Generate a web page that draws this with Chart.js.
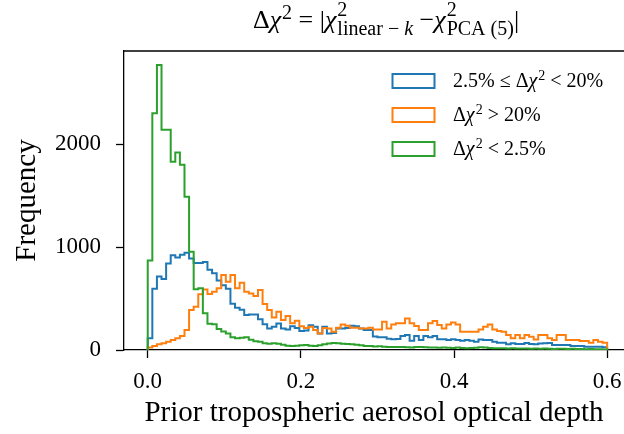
<!DOCTYPE html>
<html>
<head>
<meta charset="utf-8">
<script src="https://cdn.jsdelivr.net/npm/chart.js@4.4.0/dist/chart.umd.min.js"></script>
<style>
    html, body { margin: 0; padding: 0; background: #fff; }
    #wrap { width: 624px; height: 434px; }
</style>
</head>
<body>
<div id="wrap"><canvas id="histChart"></canvas></div>
<script>
// 100 equal bins from 0 to 0.6
var binStart = 0.0;
var binWidth = 0.006;

// 2.5% <= dchi2 < 20%
var countsMid = [
    113, 595, 715, 690, 840, 920, 900, 925, 945, 890,
    845, 845, 855, 780, 745, 675, 630, 595, 450, 410,
    390, 340, 345, 345, 300, 250, 210, 225, 258, 210,
    200, 230, 215, 185, 190, 240, 225, 160, 225, 160,
    165, 210, 210, 215, 235, 230, 210, 195, 195, 130,
    125, 123, 110, 104, 107, 136, 146, 91, 136, 97,
    136, 123, 136, 104, 104, 97, 104, 97, 90, 97,
    90, 81, 103, 97, 97, 81, 71, 71, 55, 65,
    59, 59, 68, 59, 55, 62, 65, 68, 49, 49,
    49, 49, 39, 39, 39, 32, 32, 32, 32, 26
];
// dchi2 > 20%
var countsHigh = [
    25, 40, 55, 65, 80, 97, 113, 136, 194, 388,
    421, 541, 589, 544, 566, 599, 728, 663, 728, 599,
    654, 566, 550, 524, 583, 447, 388, 317, 372, 291,
    330, 259, 285, 230, 215, 225, 195, 160, 215, 210,
    178, 217, 249, 235, 217, 217, 210, 210, 217, 200,
    200, 275, 210, 249, 259, 259, 307, 259, 233, 194,
    194, 259, 282, 243, 210, 249, 268, 249, 178, 178,
    178, 178, 200, 227, 249, 200, 184, 178, 146, 113,
    146, 113, 146, 129, 103, 146, 146, 113, 97, 146,
    146, 97, 97, 97, 87, 87, 71, 97, 81, 71
];
// dchi2 < 2.5%
var countsLow = [
    870, 2300, 2770, 2140, 2140, 1830, 1920, 1800, 1490, 955,
    590, 600, 356, 255, 250, 205, 180, 160, 125, 115,
    120, 125, 100, 85, 80, 65, 60, 65, 60, 50,
    42, 40, 42, 45, 48, 42, 40, 45, 55, 62,
    68, 65, 60, 58, 55, 50, 45, 40, 38, 35,
    36, 32, 30, 30, 28, 30, 26, 25, 28, 30,
    26, 24, 25, 22, 25, 22, 20, 24, 20, 18,
    20, 22, 26, 24, 20, 18, 16, 18, 15, 16,
    14, 15, 14, 12, 14, 12, 15, 12, 10, 12,
    11, 10, 12, 9, 10, 8, 9, 8, 7, 6
];

var seriesNames = ['2.5% ≤ Δχ² < 20%', 'Δχ² > 20%', 'Δχ² < 2.5%'];
var seriesColors = ['#1f77b4', '#ff7f0e', '#2ca02c'];
var xTicks = [0, 0.2, 0.4, 0.6];
var yTicks = [0, 1000, 2000];

var FONT = '"Liberation Serif", "DejaVu Serif", serif';

// pieces for the math-ish labels (sup / sub drawn smaller)
var legendParts = [
    [{t: '2.5% ≤ Δ'}, {t: 'χ', it: true}, {sup: '2'}, {t: ' < 20%'}],
    [{t: 'Δ'}, {t: 'χ', it: true}, {sup: '2'}, {t: ' > 20%'}],
    [{t: 'Δ'}, {t: 'χ', it: true}, {sup: '2'}, {t: ' < 2.5%'}]
];
var titleParts = [
    {t: 'Δ'}, {t: 'χ', it: true}, {sup: '2'}, {t: ' = |'},
    {t: 'χ', it: true}, {sup: '2', sub: [{t: 'linear − '}, {t: 'k', it: true}]}, {t: ' −'},
    {t: 'χ', it: true}, {sup: '2', sub: [{t: 'PCA (5)'}]}, {t: '|'}
];

function stepPoints(counts) {
    var pts = [{x: binStart, y: 0}];
    for (var i = 0; i < counts.length; i++) {
        pts.push({x: binStart + i * binWidth, y: counts[i]});
    }
    var end = binStart + counts.length * binWidth;
    pts.push({x: end, y: counts[counts.length - 1]});
    pts.push({x: end, y: 0});
    return pts;
}

function fontOf(p, size) {
    return (p.it ? 'italic ' : '') + size + 'px ' + FONT;
}

function runWidth(ctx, run, size) {
    var w = 0;
    run.forEach(function (p) {
        ctx.font = fontOf(p, size);
        w += ctx.measureText(p.t).width;
    });
    return w;
}

function scriptWidth(ctx, p, small) {
    ctx.font = small + 'px ' + FONT;
    var a = p.sup ? ctx.measureText(p.sup).width : 0;
    var b = p.sub ? runWidth(ctx, p.sub, small) : 0;
    return Math.max(a, b) + 1;
}

function richWidth(ctx, parts, size, scriptScale) {
    var w = 0;
    var small = Math.round(size * scriptScale);
    parts.forEach(function (p) {
        if (p.t !== undefined) {
            ctx.font = fontOf(p, size);
            w += ctx.measureText(p.t).width;
        } else {
            w += scriptWidth(ctx, p, small);
        }
    });
    return w;
}

function drawRich(ctx, parts, x, y, size, align, scriptScale) {
    var cx = align === 'center' ? x - richWidth(ctx, parts, size, scriptScale) / 2 : x;
    var small = Math.round(size * scriptScale);
    ctx.textBaseline = 'alphabetic';
    ctx.textAlign = 'left';
    ctx.fillStyle = '#000';
    parts.forEach(function (p) {
        if (p.t !== undefined) {
            ctx.font = fontOf(p, size);
            ctx.fillText(p.t, cx, y);
            cx += ctx.measureText(p.t).width;
        } else {
            var w = scriptWidth(ctx, p, small);
            if (p.sup) {
                var up = p.sub ? 0.46 : 0.36;
                ctx.font = small + 'px ' + FONT;
                ctx.fillText(p.sup, cx + 1, y - size * up);
            }
            if (p.sub) {
                var sx = cx + 1;
                p.sub.forEach(function (q) {
                    ctx.font = fontOf(q, small);
                    ctx.fillText(q.t, sx, y + size * 0.26);
                    sx += ctx.measureText(q.t).width;
                });
            }
            cx += w;
        }
    });
}

var decorPlugin = {
    id: 'decor',
    afterDraw: function (chart) {
        var ctx = chart.ctx;
        var area = chart.chartArea;
        ctx.save();
        // top spine
        ctx.strokeStyle = '#000';
        ctx.lineWidth = 1.3;
        ctx.beginPath();
        ctx.moveTo(area.left, area.top);
        ctx.lineTo(area.right, area.top);
        ctx.stroke();

        // title
        drawRich(ctx, titleParts, 386, 28, 26, 'center', 0.78);

        // legend
        for (var i = 0; i < legendParts.length; i++) {
            var rowY = 74 + i * 34;
            ctx.strokeStyle = seriesColors[i];
            ctx.lineWidth = 2;
            ctx.strokeRect(392.5, rowY, 42, 14);
            drawRich(ctx, legendParts[i], 453, rowY + 13, 20, 'left', 0.72);
        }
        ctx.restore();
    }
};

var countsList = [countsMid, countsHigh, countsLow];
var datasets = countsList.map(function (c, i) {
    return {
        label: seriesNames[i],
        data: stepPoints(c),
        borderColor: seriesColors[i],
        backgroundColor: 'rgba(0,0,0,0)',
        borderWidth: 2,
        fill: false,
        stepped: true,
        pointRadius: 0,
        order: 3 - i
    };
});

var ctx = document.getElementById('histChart').getContext('2d');
var histChart = new Chart(ctx, {
    type: 'line',
    data: { datasets: datasets },
    options: {
        responsive: true,
        maintainAspectRatio: false,
        animation: false,
        devicePixelRatio: 1,
        layout: { padding: { top: 51, right: 0, left: 0, bottom: 0 } },
        plugins: {
            legend: { display: false },
            tooltip: { enabled: false }
        },
        scales: {
            x: {
                type: 'linear',
                min: -0.031,
                max: 0.622,
                afterBuildTicks: function (scale) {
                    scale.ticks = xTicks.map(function (v) { return {value: v}; });
                },
                afterFit: function (scale) {
                    scale.height = 84;
                    scale.paddingLeft = 0;
                    scale.paddingRight = 0;
                },
                ticks: {
                    autoSkip: false,
                    maxRotation: 0,
                    padding: 10,
                    color: '#000',
                    font: { family: FONT, size: 23 },
                    callback: function (v) { return v.toFixed(1); }
                },
                grid: {
                    drawOnChartArea: false,
                    drawTicks: true,
                    tickLength: 8,
                    tickWidth: 1.3,
                    tickColor: '#000'
                },
                border: { display: true, color: '#000', width: 1.3 },
                title: {
                    display: true,
                    text: 'Prior tropospheric aerosol optical depth',
                    color: '#000',
                    font: { family: FONT, size: 29 },
                    padding: { top: 0, bottom: 3 }
                }
            },
            y: {
                min: 0,
                max: 2906,
                afterBuildTicks: function (scale) {
                    scale.ticks = yTicks.map(function (v) { return {value: v}; });
                },
                afterFit: function (scale) {
                    scale.width = 124;
                    scale.paddingTop = 0;
                    scale.paddingBottom = 0;
                },
                ticks: {
                    autoSkip: false,
                    padding: 15,
                    color: '#000',
                    font: { family: FONT, size: 23 },
                    callback: function (v) { return String(v); }
                },
                grid: {
                    drawOnChartArea: false,
                    drawTicks: true,
                    tickLength: 8,
                    tickWidth: 1.3,
                    tickColor: '#000'
                },
                border: { display: true, color: '#000', width: 1.3 },
                title: {
                    display: true,
                    text: 'Frequency',
                    color: '#000',
                    font: { family: FONT, size: 29 },
                    padding: { top: 10, bottom: 0 }
                }
            }
        }
    },
    plugins: [decorPlugin]
});
</script>
</body>
</html>
